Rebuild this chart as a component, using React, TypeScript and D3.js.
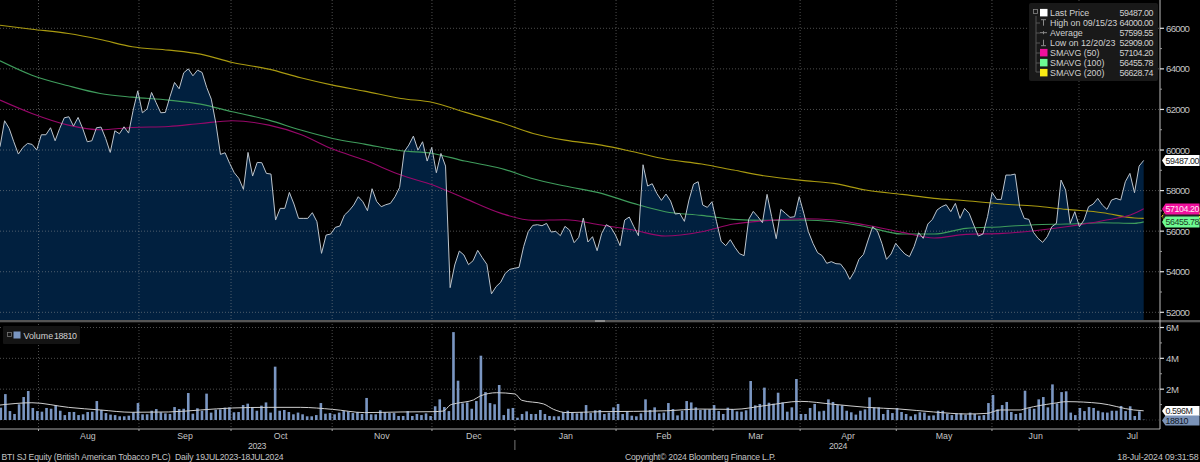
import React from "react";
import * as d3 from "d3";

const price = [60161,61442,61064,60407,59800,60128,60325,60276,59997,60752,60752,61097,60456,61064,61589,61639,61179,61606,61064,60407,60456,61097,61130,60571,59882,60949,60801,61146,60834,61967,62919,61836,62016,62837,62328,61836,61852,62624,63330,63018,63806,64000,63658,63937,63822,63084,62509,61310,59783,59865,59340,58880,58601,58059,59882,58716,59389,59373,58847,58814,56548,57123,57123,57911,57337,56630,56630,56630,56910,56466,54906,55809,55859,56187,56253,56795,57008,57287,57698,57451,57008,58092,57468,57205,57304,57369,57698,
58158,59914,60243,60686,59997,60407,59455,60128,58880,59832,59208,53215,54332,55021,54824,54348,54545,55054,54693,54364,52909,53264,53478,53921,54118,54167,54217,55235,55974,56286,56318,56269,56384,55957,55990,55777,56236,56056,55432,55695,56647,55465,55727,55038,55892,56318,56187,55809,55284,56548,56696,56220,55777,59274,58223,58338,57862,57517,57829,57484,56844,56877,56483,57534,58322,58437,57287,57172,57451,56466,55497,55284,55580,55202,54890,54791,56581,56975,56713,56417,57813,56713,55629,57074,56877,56680,56713,
57698,56877,55974,55399,54939,54791,54414,54496,54397,54381,54085,53626,54003,54611,54857,55563,56220,56023,55399,54611,54874,55399,55120,54874,54742,55235,55924,55645,56351,56581,57041,57205,57304,56959,57369,56630,57123,56877,56302,55760,55859,56713,57911,57566,57566,58765,58765,58814,57205,56630,56581,55941,55645,55448,55727,56220,56384,58519,58026,56384,56959,56220,56548,57205,57337,57616,57287,57074,57534,57616,57534,58437,58847,57895,59208,59487];

const smaDays = [0,7,15,22,29,37,44,51,59,66,73,80,88,95,102,110,117,124,132,139,146,154,161,168,176,183,190,198,205,212,220,227,234,242,249,251];
const sma200 = [66154,65957,65744,65448,65087,64923,64726,64315,63987,63560,63198,62903,62542,62345,61868,61343,60818,60489,60243,59914,59553,59307,59011,58716,58502,58355,58026,57813,57616,57501,57337,57238,57074,56910,56647,56629];
const sma100 = [64397,63691,63166,62788,62607,62460,62263,61885,61474,60982,60571,60292,59964,59832,59455,59093,58584,58223,57862,57369,56959,56778,56581,56532,56548,56466,56220,55859,55859,56138,56220,56318,56351,56417,56384,56456];
const sma50 = [62460,61803,61228,60998,61113,61162,61310,61442,61228,60768,60046,59504,58765,58272,57616,56877,56532,56565,56302,56056,55760,55974,56351,56515,56614,56548,56302,55941,55662,55842,55892,56023,56220,56515,56877,57104];

const volume = [0.80,1.68,0.58,0.39,1.02,1.49,1.88,0.78,0.58,0.54,0.78,0.73,0.97,0.60,0.32,0.52,0.52,0.32,0.37,0.52,0.54,1.23,0.65,0.45,0.35,0.32,0.24,0.24,0.28,0.50,1.10,0.37,0.37,0.60,0.71,0.50,0.43,0.39,0.84,0.71,0.73,1.75,0.41,0.76,0.60,1.71,0.48,0.67,0.69,0.80,0.82,0.50,0.52,0.97,1.06,0.84,0.60,0.93,1.14,0.48,3.46,0.60,0.65,0.52,0.37,0.48,0.37,0.24,0.24,0.32,1.10,0.41,0.45,0.37,0.48,0.58,0.56,0.45,0.52,0.39,1.43,0.37,0.37,0.63,0.50,0.45,0.45,0.26,
0.26,0.58,0.26,0.39,0.32,0.43,0.26,0.89,1.34,0.84,0.58,5.70,2.55,1.08,1.14,0.73,1.23,4.17,1.81,1.10,1.02,2.27,0.32,0.73,0.78,0.15,0.39,0.56,0.39,0.39,0.65,0.39,0.26,0.24,0.24,0.52,0.60,0.50,0.43,0.52,0.97,0.45,0.63,0.65,0.39,0.48,0.82,1.04,0.39,0.56,0.28,0.24,0.43,1.34,0.65,0.82,0.43,0.48,1.10,0.71,0.30,0.60,1.23,1.14,0.82,0.65,0.69,0.69,0.97,0.58,0.39,0.80,0.71,0.56,0.54,0.63,2.53,0.95,1.04,2.10,1.12,1.06,1.77,1.14,0.54,0.82,2.66,0.39,
0.39,0.78,1.04,0.56,0.60,1.34,1.17,0.97,0.95,0.60,0.50,0.35,0.60,0.69,1.47,0.82,0.82,0.39,0.67,0.45,0.78,0.52,0.39,0.24,0.37,0.50,0.48,0.28,0.30,0.60,0.60,0.41,0.32,0.41,0.43,0.35,0.48,0.39,0.28,0.32,1.10,1.62,0.69,0.97,1.17,0.52,0.39,0.45,1.90,0.76,0.73,1.34,1.49,0.82,2.31,1.08,1.81,1.86,0.48,0.32,0.78,0.58,0.84,0.78,0.60,0.50,0.48,0.60,0.60,0.91,0.58,0.89,0.26,0.56,0.0188];

const volAvgDays = [0,7,15,22,29,37,44,51,59,66,73,80,88,95,97.3,98.8,100.2,103.9,105.4,109,113,114.5,119.3,121.5,124.4,131.7,139,146.3,153.6,161,168.3,175.6,182.9,190.2,197.5,204.9,212.2,216.6,219.5,223.9,225.3,231.2,234.1,241.4,248.8,251];
const volAvg = [0.97,1.12,0.82,0.65,0.50,0.52,0.65,0.78,0.82,0.82,0.69,0.48,0.52,0.54,0.58,0.97,1.08,1.30,1.56,1.77,1.69,1.28,1.04,0.69,0.48,0.54,0.56,0.60,0.71,0.69,0.95,1.21,1.02,0.82,0.71,0.52,0.39,0.43,0.65,0.65,0.76,1.08,1.19,1.08,0.65,0.596];

const priceTicks = [52000,54000,56000,58000,60000,62000,64000,66000];
const priceMinor = [53000,55000,57000,59000,61000,63000,65000];
const volTicks = [2,4,6];
const volMinor = [1,3,5];
const monthStarts = [8.45,30.5,50.7,72.9,94.8,113,135.2,156.5,175.6,196.7,217.7,236.8];
const monthNames = ["Aug","Sep","Oct","Nov","Dec","Jan","Feb","Mar","Apr","May","Jun","Jul"];
const monthLabelDays = [19.3,40.6,61.6,83.8,104,124.2,145.7,165.9,186.1,207.2,227.3,248.5];
const years = [{ label: "2023", day: 56.4 }, { label: "2024", day: 183.9 }];
const yearDivider = 113;

const legendRows = [
  { label: "Last Price", value: "59487.00", color: "#ffffff" },
  { label: "High on 09/15/23", value: "64000.00", color: null },
  { label: "Average", value: "57599.55", color: null },
  { label: "Low on 12/20/23", value: "52909.00", color: null },
  { label: "SMAVG (50)", value: "57104.20", color: "#f0109c" },
  { label: "SMAVG (100)", value: "56455.78", color: "#6dfb92" },
  { label: "SMAVG (200)", value: "56628.74", color: "#f8ea14" },
];

const FONT = "'Liberation Sans', Arial, sans-serif";
const W = 1200, H = 462;
const axisX = 1160, lastX = 1143.7, panelBottom = 320, volBottom = 429;

function Tag({ y, fill, text, color, h = 11, x = 1162, dash }: any) {
  const r = 1199.5;
  const d = `M${x},${y} L${x + 3.5},${y - h / 2} L${r},${y - h / 2} L${r},${y + h / 2} L${x + 3.5},${y + h / 2} Z`;
  return (
    <g>
      <path d={d} fill={fill} stroke={dash ? "#f8ea14" : "none"} strokeDasharray={dash ? "2 1.5" : undefined} />
      <text x={x + 3.6} y={y + 3.3} fill={color} fontSize={8.9} letterSpacing={-0.45} fontFamily={FONT}>{text}</text>
    </g>
  );
}

export default function App() {
  const x = d3.scaleLinear().domain([0, 251]).range([0, lastX]);
  const xp = d3.scaleLinear().domain([0, price.length - 1]).range([0, lastX]);
  const xv = d3.scaleLinear().domain([0, volume.length - 1]).range([0.8, lastX + 0.2]);
  const y = d3.scaleLinear().domain([52000, 66000]).range([312.3, 28.3]);
  const yv = d3.scaleLinear().domain([0, 6]).range([420, 327.5]);

  const priceLine = d3.line<number>().x((_, i) => xp(i)).y((d) => y(d));
  const priceArea = d3.area<number>().x((_, i) => xp(i)).y0(panelBottom).y1((d) => y(d));
  const smaLine = d3.line<number>().x((_, i) => x(smaDays[i])).y((d) => y(d)).curve(d3.curveMonotoneX);
  const volLine = d3.line<number>().x((_, i) => x(volAvgDays[i])).y((d) => yv(d)).curve(d3.curveMonotoneX);

  const gridStyle = { stroke: "#9a9a9a", strokeOpacity: 0.5, strokeWidth: 1, strokeDasharray: "1 2" };
  const textFill = "#c4c4c4";

  return (
    <svg width={W} height={H} viewBox={`0 0 ${W} ${H}`}
      style={{ position: "fixed", left: 0, top: 0, display: "block", background: "#000" }}>
      <rect width={W} height={H} fill="#000" />
      <path d={priceArea(price) || ""} fill="#01203f" />

      {monthStarts.map((d) => (
        <line key={d} x1={x(d)} x2={x(d)} y1={0} y2={volBottom} {...gridStyle} />
      ))}
      {priceTicks.map((t) => (
        <line key={t} x1={0} x2={axisX} y1={y(t)} y2={y(t)} {...gridStyle} />
      ))}
      {volTicks.map((t) => (
        <line key={t} x1={0} x2={axisX} y1={yv(t)} y2={yv(t)} {...gridStyle} />
      ))}
      <line x1={0} x2={axisX} y1={yv(0)} y2={yv(0)} {...gridStyle} strokeOpacity={0.3} />

      <path d={smaLine(sma200) || ""} fill="none" stroke="#a99a10" strokeWidth={1.1} />
      <path d={smaLine(sma100) || ""} fill="none" stroke="#3f9c5c" strokeWidth={1.1} />
      <path d={smaLine(sma50) || ""} fill="none" stroke="#98086a" strokeWidth={1.1} />
      <path d={priceLine(price) || ""} fill="none" stroke="#bcc4cc" strokeWidth={1} />

      {volume.map((v, i) => (
        <rect key={i} x={xv(i) - 1.3} width={2.6} y={yv(v)} height={yv(0) - yv(v)} fill="#7a96c2" />
      ))}
      <path d={volLine(volAvg) || ""} fill="none" stroke="#cfcfcf" strokeWidth={1} />

      {/* panel separator */}
      <rect x={0} y={320} width={W} height={2} fill="#555" />
      <rect x={595} y={320} width={10} height={2} fill="#8c8c8c" />
      <rect x={0} y={322} width={W} height={0.8} fill="#222" />

      {/* axes */}
      <line x1={axisX} x2={axisX} y1={0} y2={volBottom} stroke="#bdbdbd" strokeWidth={1} />
      <line x1={0} x2={axisX} y1={volBottom} y2={volBottom} stroke="#a8a8a8" strokeWidth={1} />
      {priceTicks.map((t) => (
        <g key={t}>
          <line x1={axisX} x2={axisX + 4} y1={y(t)} y2={y(t)} stroke="#e0e0e0" strokeWidth={1.2} />
          <text x={1166} y={y(t) + 3.5} fill={textFill} fontSize={9.6} letterSpacing={-0.7} fontFamily={FONT}>{t}</text>
        </g>
      ))}
      {priceMinor.map((t) => (
        <line key={t} x1={axisX} x2={axisX + 2} y1={y(t)} y2={y(t)} stroke="#999" />
      ))}
      {volTicks.map((t) => (
        <g key={t}>
          <line x1={axisX} x2={axisX + 4} y1={yv(t)} y2={yv(t)} stroke="#e0e0e0" strokeWidth={1.2} />
          <text x={1166} y={yv(t) + 3.5} fill={textFill} fontSize={9.6} letterSpacing={-0.3} fontFamily={FONT}>{t}M</text>
        </g>
      ))}
      {volMinor.map((t) => (
        <line key={t} x1={axisX} x2={axisX + 2} y1={yv(t)} y2={yv(t)} stroke="#999" />
      ))}

      {/* x axis */}
      {monthStarts.map((d) => (
        <line key={d} x1={x(d)} x2={x(d)} y1={volBottom} y2={volBottom + 2} stroke="#a8a8a8" />
      ))}
      {monthNames.map((m, i) => (
        <text key={m} x={x(monthLabelDays[i])} y={439} textAnchor="middle" fill={textFill} fontSize={8.8} fontFamily={FONT}>{m}</text>
      ))}
      {years.map((yr) => (
        <text key={yr.label} x={x(yr.day)} y={449} textAnchor="middle" fill={textFill} fontSize={8.8} letterSpacing={-0.4} fontFamily={FONT}>{yr.label}</text>
      ))}
      <line x1={x(yearDivider)} x2={x(yearDivider)} y1={440} y2={450} stroke="#777" />

      {/* value tags */}
      <Tag y={160.5} fill="#ffffff" color="#222" text="59487.00" />
      <Tag y={216.5} fill="#222" color="#222" text="" dash />
      <Tag y={209} fill="#f0109c" color="#ffe6f5" text="57104.20" />
      <Tag y={222} fill="#6dfb92" color="#1d3d26" text="56455.78" />
      <Tag y={411} fill="#ffffff" color="#222" text="0.596M" h={10} />
      <Tag y={420.5} fill="#7b93b8" color="#10161f" text="18810" h={10} />

      {/* legend */}
      <rect x={1029} y={3} width={129} height={78} rx={2} fill="#191919" />
      <path d="M1036,16 V72 H1040 M1036,23 H1040 M1036,33 H1040 M1036,43 H1040 M1036,53 H1040 M1036,63 H1040" stroke="#555" fill="none" />
      <rect x={1033.5} y={9.5} width={4} height={4} fill="#191919" stroke="#888" strokeWidth={0.8} />
      {legendRows.map((r, i) => {
        const cy = 12.7 + i * 10;
        return (
          <g key={r.label}>
            {r.color ? (
              <rect x={1040} y={cy - 3.8} width={7.5} height={7.5} fill={r.color} />
            ) : (
              <path
                d={i === 2
                  ? `M1040,${cy} H1047 M1043.5,${cy - 1.5} V${cy + 1.5}`
                  : i === 1
                    ? `M1041,${cy - 3} H1046 M1043.5,${cy - 3} V${cy + 3}`
                    : `M1043.5,${cy - 3} V${cy + 3} M1041,${cy + 3} H1046`}
                stroke="#8a8a8a" fill="none" />
            )}
            <text x={1050} y={cy + 3.2} fill="#d0d0d0" fontSize={8.9} letterSpacing={-0.02} fontFamily={FONT}>{r.label}</text>
            <text x={1153} y={cy + 3.2} textAnchor="end" fill="#d0d0d0" fontSize={8.9} letterSpacing={-0.45} fontFamily={FONT}>{r.value}</text>
          </g>
        );
      })}

      {/* volume legend */}
      <rect x={3} y={326} width={77} height={18} rx={1} fill="#141414" />
      <rect x={7.5} y={332.5} width={4} height={4} fill="none" stroke="#777" strokeWidth={0.8} />
      <rect x={13.5} y={331.5} width={7} height={7} fill="#7a96c2" />
      <text x={23.5} y={338.5} fill="#d0d0d0" fontSize={8.9} fontFamily={FONT}>Volume</text>
      <text x={54} y={338.5} fill="#d0d0d0" fontSize={8.9} letterSpacing={-0.45} fontFamily={FONT}>18810</text>

      {/* footer */}
      <text x={1.5} y={460} fill={textFill} fontSize={8.6} letterSpacing={-0.15} fontFamily={FONT} xmlSpace="preserve">BTI SJ Equity (British American Tobacco PLC)  Daily 19JUL2023-18JUL2024</text>
      <text x={625} y={460} fill={textFill} fontSize={8.6} letterSpacing={-0.2} fontFamily={FONT}>Copyright© 2024 Bloomberg Finance L.P.</text>
      <text x={1198.5} y={460} textAnchor="end" fill={textFill} fontSize={8.8} letterSpacing={-0.1} fontFamily={FONT}>18-Jul-2024 09:31:58</text>
    </svg>
  );
}
